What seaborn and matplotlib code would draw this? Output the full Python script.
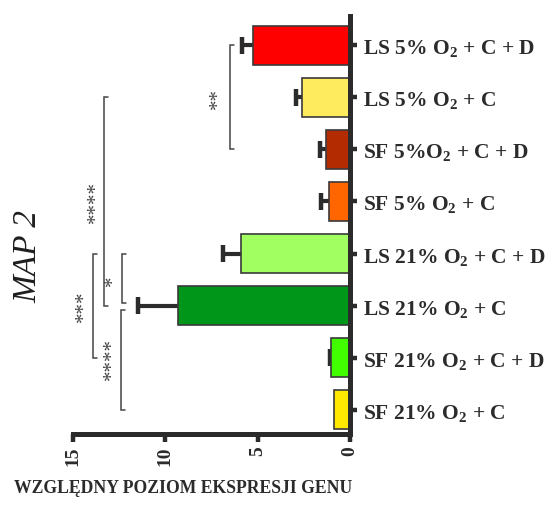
import matplotlib
matplotlib.use("Agg")
import matplotlib.pyplot as plt
import seaborn as sns
import numpy as np
import pandas as pd

categories = ["LS 5% O$_2$ + C + D", "LS 5% O$_2$ + C", "SF 5%O$_2$ + C + D", "SF 5% O$_2$ + C",
              "LS 21% O$_2$ + C + D", "LS 21% O$_2$ + C", "SF 21% O$_2$ + C + D", "SF 21% O$_2$ + C"]
values = [5.28, 2.58, 1.31, 1.15, 5.9, 9.3, 1.05, 0.87]
errors = [0.58, 0.33, 0.29, 0.40, 1.0, 2.2, 0.05, 0.0]
colors = ["#FF0000", "#FFEC5E", "#B32B00", "#FF6600", "#A2FF62", "#00961A", "#42FF00", "#FFE900"]
x_ticks = [0, 5, 10, 15]
x_label = "WZGLĘDNY POZIOM EKSPRESJI GENU"
title = "MAP 2"
# significance brackets: (value position, from index, to index, text, text x, text y)
brackets = [
    (6.5, 0.0, 2.0, "**", 7.15, 1.0),
    (13.3, 1.0, 5.0, "****", 13.75, 3.0),
    (12.35, 4.0, 4.95, "*", 12.8, 4.5),
    (13.9, 4.0, 6.0, "***", 14.4, 5.0),
    (12.4, 5.08, 7.0, "****", 12.85, 6.0),
]

sns.set_style("white")
plt.rcParams["font.family"] = ["Liberation Serif", "DejaVu Serif"]
plt.rcParams["mathtext.default"] = "regular"

dark = "#2b2b2b"
fig = plt.figure(figsize=(5.53, 5.06), dpi=100)
ax = fig.add_axes([0.132, 0.140, 0.501, 0.826])

df = pd.DataFrame({"cat": categories, "val": values})
sns.barplot(data=df, x="val", y="cat", hue="cat", palette=colors, legend=False, saturation=1,
            orient="h", width=0.75, edgecolor="#3a3a3a", linewidth=1.2, ax=ax, zorder=2)

ypos = np.arange(len(categories))
vals = np.array(values)
errs = np.array(errors)
has_err = errs > 0.01
ax.hlines(ypos[has_err], vals[has_err], vals[has_err] + errs[has_err], color=dark, lw=3, zorder=1)
ax.vlines(vals[has_err] + errs[has_err], ypos[has_err] - 0.16, ypos[has_err] + 0.16,
          color=dark, lw=3.2, zorder=1)

ax.set_xlim(15, 0)
ax.set_ylim(7.47, -0.56)
ax.set_xticks(x_ticks)
ax.set_xticklabels([str(t) for t in x_ticks], rotation=90, fontsize=14, fontweight="bold", color=dark)
ax.yaxis.tick_right()
ax.set_yticks(ypos)
ax.set_yticklabels(categories, fontsize=15.5, fontweight="bold", color=dark)
ax.set_ylabel("")
ax.set_xlabel("")

for s in ["left", "top"]:
    ax.spines[s].set_visible(False)
for s in ["right", "bottom"]:
    ax.spines[s].set_linewidth(3.6)
    ax.spines[s].set_color(dark)
ax.tick_params(axis="x", direction="out", length=6, width=3.2, color=dark, bottom=True, pad=2)
ax.tick_params(axis="y", direction="out", length=5, width=3.2, color=dark, right=True, left=False, pad=4)

cap = 0.2
for xv, y0, y1, txt, tx, ty in brackets:
    ax.plot([xv - cap, xv, xv, xv - cap], [y0, y0, y1, y1], color="#444444", lw=1.1,
            clip_on=False, solid_joinstyle="miter")
    ax.text(tx, ty, txt, rotation=90, ha="center", va="center", fontsize=15, color="#444444")

fig.text(0.331, 0.034, x_label, ha="center", va="center", fontsize=12.7,
         fontweight="bold", color=dark)
fig.text(0.051, 0.494, title, rotation=90, ha="center", va="center",
         fontsize=24, style="italic", color="#1e1e1e")

fig.savefig("out.png", dpi=100)
